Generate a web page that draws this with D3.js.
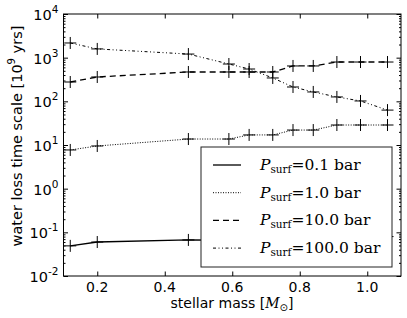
<!DOCTYPE html>
<html>
<head>
<meta charset="utf-8">
<script src="https://cdn.jsdelivr.net/npm/d3@7"></script>
<style>
  body { margin: 0; background: #fff; }
  svg { display: block; }
</style>
</head>
<body>
<div id="chart"></div>
<script>
const FRAME_WIDTH = 407;
const FRAME_HEIGHT = 318;
const MARGINS = { left: 63.5, right: 6, top: 14, bottom: 42 };
const VIS_WIDTH = FRAME_WIDTH - MARGINS.left - MARGINS.right;
const VIS_HEIGHT = FRAME_HEIGHT - MARGINS.top - MARGINS.bottom;

// stellar masses [M_sun]
const MASSES = [0.12, 0.2, 0.47, 0.59, 0.65, 0.72, 0.78, 0.84, 0.91, 0.98, 1.06];

// water loss time scale [1e9 yrs] per surface pressure
const P01 = [0.049, 0.060, 0.067, 0.066, 0.068, 0.070, 0.072, 0.074, 0.076, 0.078, 0.080];
const P1 = [7.7, 9.5, 13.7, 13.7, 17, 17, 22, 22, 28.7, 28.7, 28.7];
const P10 = [277, 361, 470, 470, 470, 470, 646, 646, 795, 795, 795];
const P100 = [2170, 1585, 1210, 716, 550, 343, 213, 164, 126, 102, 63];

const X_TICKS = [0.2, 0.4, 0.6, 0.8, 1.0];
const Y_EXPONENTS = [-2, -1, 0, 1, 2, 3, 4];
const PRESSURE_LABELS = ["0.1", "1.0", "10.0", "100.0"];

const SERIES = [
  { values: P01, dash: null, width: 1.3 },
  { values: P1, dash: "1,1.5", width: 1 },
  { values: P10, dash: "6,4", width: 1.3 },
  { values: P100, dash: "3,2.5,1,2.5,1,2.5", width: 1 },
];

const FRAME = d3
  .select("#chart")
  .append("svg")
  .attr("width", FRAME_WIDTH)
  .attr("height", FRAME_HEIGHT);

const X_SCALE = d3.scaleLinear().domain([0.1, 1.1]).range([0, VIS_WIDTH]);
const Y_SCALE = d3.scaleLog().domain([1e-2, 1e4]).range([VIS_HEIGHT, 0]);

const plot = FRAME.append("g")
  .attr("transform", `translate(${MARGINS.left},${MARGINS.top})`);

// minor log ticks (left and right, inward)
const minor = [];
for (let e = -2; e < 4; e++) {
  for (let k = 2; k <= 9; k++) minor.push(k * Math.pow(10, e));
}
const fmtNone = () => "";

function tickAxis(axis, transform) {
  const g = plot.append("g").attr("transform", transform).call(axis);
  g.select(".domain").remove();
  g.selectAll("line").attr("stroke", "#000").attr("stroke-width", 1);
  g.selectAll("text").remove();
  return g;
}

tickAxis(d3.axisRight(Y_SCALE).tickValues(minor).tickSize(2).tickFormat(fmtNone), "translate(0,0)");
tickAxis(d3.axisLeft(Y_SCALE).tickValues(minor).tickSize(2).tickFormat(fmtNone), `translate(${VIS_WIDTH},0)`);
tickAxis(d3.axisRight(Y_SCALE).tickValues(Y_EXPONENTS.map((e) => Math.pow(10, e))).tickSize(4.5).tickFormat(fmtNone), "translate(0,0)");
tickAxis(d3.axisLeft(Y_SCALE).tickValues(Y_EXPONENTS.map((e) => Math.pow(10, e))).tickSize(4.5).tickFormat(fmtNone), `translate(${VIS_WIDTH},0)`);
tickAxis(d3.axisTop(X_SCALE).tickValues(X_TICKS).tickSize(4.5).tickFormat(fmtNone), `translate(0,${VIS_HEIGHT})`);
tickAxis(d3.axisBottom(X_SCALE).tickValues(X_TICKS).tickSize(4.5).tickFormat(fmtNone), "translate(0,0)");

// y tick labels 10^n
Y_EXPONENTS.forEach((e) => {
  const t = plot.append("text")
    .attr("x", -5)
    .attr("y", Y_SCALE(Math.pow(10, e)) + 6)
    .attr("text-anchor", "end")
    .attr("font-family", "DejaVu Sans")
    .attr("font-size", 14.5)
    .attr("fill", "#000");
  t.append("tspan").text("10");
  t.append("tspan").attr("dy", -7).attr("font-size", 10.5).text(e < 0 ? "-" + Math.abs(e) : e);
});

// x tick labels
plot.selectAll(".xlab")
  .data(X_TICKS)
  .enter()
  .append("text")
  .attr("x", (d) => X_SCALE(d))
  .attr("y", VIS_HEIGHT + 16)
  .attr("text-anchor", "middle")
  .attr("font-family", "DejaVu Sans")
  .attr("font-size", 14)
  .attr("fill", "#000")
  .text((d) => d.toFixed(1));

// lines and markers
const line = d3.line()
  .x((d, i) => X_SCALE(MASSES[i]))
  .y((d) => Y_SCALE(d));

SERIES.forEach((s) => {
  plot.append("path")
    .attr("d", line(s.values))
    .attr("fill", "none")
    .attr("stroke", "#000")
    .attr("stroke-width", s.width)
    .attr("stroke-dasharray", s.dash);

  plot.selectAll(null)
    .data(s.values)
    .enter()
    .append("path")
    .attr("d", (d, i) => {
      const cx = X_SCALE(MASSES[i]);
      const cy = Y_SCALE(d);
      return `M${cx - 6},${cy}H${cx + 6}M${cx},${cy - 6}V${cy + 6}`;
    })
    .attr("stroke", "#000")
    .attr("stroke-width", 1);
});

// frame
plot.append("rect")
  .attr("width", VIS_WIDTH)
  .attr("height", VIS_HEIGHT)
  .attr("fill", "none")
  .attr("stroke", "#000")
  .attr("stroke-width", 1);

// legend
const legend = plot.append("g")
  .attr("transform", `translate(${201 - MARGINS.left},${147 - MARGINS.top})`);

legend.append("rect")
  .attr("width", 191)
  .attr("height", 120)
  .attr("fill", "#fff")
  .attr("stroke", "#222")
  .attr("stroke-width", 1);

SERIES.forEach((s, i) => {
  const ly = 18 + i * 27.7;
  legend.append("line")
    .attr("x1", 12).attr("x2", 40)
    .attr("y1", ly).attr("y2", ly)
    .attr("stroke", "#000")
    .attr("stroke-width", s.width)
    .attr("stroke-dasharray", s.dash);

  const t = legend.append("text")
    .attr("x", 59)
    .attr("y", ly + 5)
    .attr("font-family", "DejaVu Serif")
    .attr("font-size", 15.5)
    .attr("fill", "#000");
  t.append("tspan").attr("font-style", "italic").text("P");
  t.append("tspan").attr("font-size", 10.5).attr("dy", 3).text("surf");
  t.append("tspan").attr("dy", -3).text(`=${PRESSURE_LABELS[i]} bar`);
});

// axis titles
const xTitle = FRAME.append("text")
  .attr("x", 232)
  .attr("y", 308)
  .attr("text-anchor", "middle")
  .attr("font-family", "DejaVu Sans")
  .attr("font-size", 14)
  .attr("fill", "#000");
xTitle.append("tspan").text("stellar mass [");
xTitle.append("tspan").attr("font-family", "DejaVu Serif").attr("font-style", "italic").text("M");
xTitle.append("tspan").attr("font-size", 10).attr("dy", 3).text("⊙");
xTitle.append("tspan").attr("dy", -3).text("]");

const yTitle = FRAME.append("text")
  .attr("transform", "translate(22,136) rotate(-90)")
  .attr("text-anchor", "middle")
  .attr("font-family", "DejaVu Sans")
  .attr("font-size", 14.5)
  .attr("fill", "#000");
yTitle.append("tspan").text("water loss time scale [10");
yTitle.append("tspan").attr("font-size", 10).attr("dy", -7).text("9");
yTitle.append("tspan").attr("dy", 7).text("  yrs]");
</script>
</body>
</html>
